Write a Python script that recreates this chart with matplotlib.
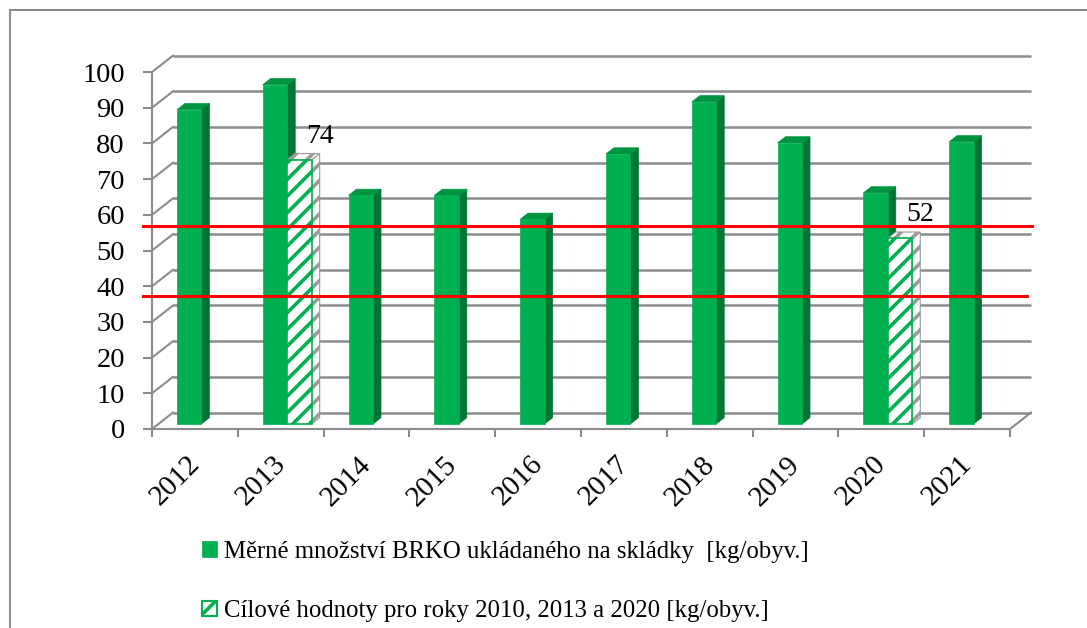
import numpy as np
import matplotlib
matplotlib.use("Agg")
import matplotlib.pyplot as plt
import matplotlib.transforms as mtransforms
from matplotlib.patches import Polygon, Patch, Rectangle

plt.rcParams['font.family'] = ['Liberation Serif', 'DejaVu Serif']
plt.rcParams['hatch.linewidth'] = 2.6

# --- data -------------------------------------------------------------
years = ['2012', '2013', '2014', '2015', '2016', '2017', '2018', '2019', '2020', '2021']
brko_landfilled = [88, 95, 64, 64, 57.3, 75.6, 90.2, 78.7, 64.7, 79]
target_values = [np.nan, 74, np.nan, np.nan, np.nan, np.nan, np.nan, np.nan, 52, np.nan]
reference_levels = [56.9, 37.2]
y_ticks = list(range(0, 101, 10))

series_labels = ['Měrné množství BRKO ukládaného na skládky  [kg/obyv.]',
                 'Cílové hodnoty pro roky 2010, 2013 a 2020 [kg/obyv.]']

# --- colours ----------------------------------------------------------
GREEN = '#00B050'
GREEN_SIDE = '#007534'
GREEN_TOP = '#009440'
GRID = '#8c8c8c'

# --- pseudo-3D geometry (data units) -----------------------------------
DX, DY = 0.245, 4.6      # depth offset from front plane to back wall
F0, F1 = 0.31, 0.69      # front / back of the columns as depth fraction
BW = 0.285               # column width in category units


def P(x, y, f):
    return (x + f * DX, y + f * DY)


def column(ax, x0, v, front_kw, side_kw, top_kw, z):
    x1 = x0 + BW
    front = [P(x0, 0, F0), P(x1, 0, F0), P(x1, v, F0), P(x0, v, F0)]
    side = [P(x1, 0, F0), P(x1, 0, F1), P(x1, v, F1), P(x1, v, F0)]
    top = [P(x0, v, F0), P(x1, v, F0), P(x1, v, F1), P(x0, v, F1)]
    ax.add_patch(Polygon(side, closed=True, zorder=z, **side_kw))
    ax.add_patch(Polygon(top, closed=True, zorder=z, **top_kw))
    ax.add_patch(Polygon(front, closed=True, zorder=z + 0.1, **front_kw))


W, H = 1087, 628
fig = plt.figure(figsize=(W / 100, H / 100), dpi=100)
fig.patch.set_facecolor('white')
ax = fig.add_axes([152 / W, (H - 429) / H, 858 / W, 357 / H])
ax.set_xlim(0, len(years))
ax.set_ylim(0, 100)
ax.patch.set_visible(False)

n = len(years)

# back wall gridlines and side-wall diagonals
for t in y_ticks:
    ax.plot([0 + DX, n + DX], [t + DY, t + DY], color=GRID, lw=1.8,
            zorder=1, clip_on=False, solid_capstyle='butt')
    ax.plot([0, DX], [t, t + DY], color=GRID, lw=1.5, zorder=1, clip_on=False)
ax.plot([n, n + DX], [0, DY], color=GRID, lw=1.5, zorder=1, clip_on=False)

# columns
for i, (v, t) in enumerate(zip(brko_landfilled, target_values)):
    x0 = i + 0.5 - BW
    column(ax, x0, v,
           dict(facecolor=GREEN, edgecolor=GREEN, lw=0.5),
           dict(facecolor=GREEN_SIDE, edgecolor=GREEN_SIDE, lw=0.5),
           dict(facecolor=GREEN_TOP, edgecolor=GREEN_TOP, lw=0.5),
           z=3 + i)
    if not np.isnan(t):
        column(ax, i + 0.5, t,
               dict(facecolor='white', edgecolor=GREEN, hatch='//', lw=1.2),
               dict(facecolor='white', edgecolor='#9a9a9a', hatch='//', lw=0.8),
               dict(facecolor='white', edgecolor='#9a9a9a', hatch='//', lw=0.8),
               z=3.5 + i)
        ax.text(i + 0.5 + BW + F1 * DX, t + 6.2, f'{t:g}', ha='center',
                va='baseline', fontsize=20, zorder=20)

# reference lines
ax.plot([-0.105, n + 0.26], [reference_levels[0]] * 2, color='#ff0000',
        lw=2.2, zorder=15, clip_on=False)
ax.plot([-0.105, n + 0.2], [reference_levels[1]] * 2, color='#ff0000',
        lw=2.2, zorder=15, clip_on=False)

# axes: front value axis and floor edge
for s in ['top', 'right']:
    ax.spines[s].set_visible(False)
for s in ['left', 'bottom']:
    ax.spines[s].set_color(GRID)
    ax.spines[s].set_linewidth(1.5)
    ax.spines[s].set_zorder(2)

ax.set_yticks(y_ticks)
ax.set_yticklabels([str(t) for t in y_ticks], fontsize=20.5)
ax.tick_params(axis='y', length=6.5, width=1.5, color=GRID, pad=13)

ax.set_xticks(range(n + 1))
ax.set_xticklabels([])
ax.tick_params(axis='x', which='major', length=6, width=1.5, color=GRID)
ax.set_xticks(np.arange(n) + 0.5, minor=True)
ax.set_xticklabels(years, minor=True, rotation=45, ha='right', fontsize=21)
ax.tick_params(axis='x', which='minor', length=0, pad=16)
shift = mtransforms.ScaledTranslation(0.10, 0, fig.dpi_scale_trans)
for lab in ax.get_xticklabels(minor=True):
    lab.set_transform(lab.get_transform() + shift)

# legend
handles = [Patch(facecolor=GREEN, edgecolor=GREEN, lw=0.5),
           Patch(facecolor='white', edgecolor=GREEN, hatch='//', lw=1.5)]
fig.legend(handles, series_labels, loc='upper left',
           bbox_to_anchor=(202 / W, (H - 541) / H), frameon=False,
           fontsize=17.8, handlelength=0.6, handleheight=0.6,
           handletextpad=0.3, labelspacing=1.5, borderpad=0,
           borderaxespad=0)

# chart border
fig.add_artist(Rectangle((10 / W, -0.2), 2, (H - 10) / H + 0.2,
                         transform=fig.transFigure, fill=False,
                         edgecolor=GRID, lw=1.5))

fig.savefig('out.png', dpi=100)
